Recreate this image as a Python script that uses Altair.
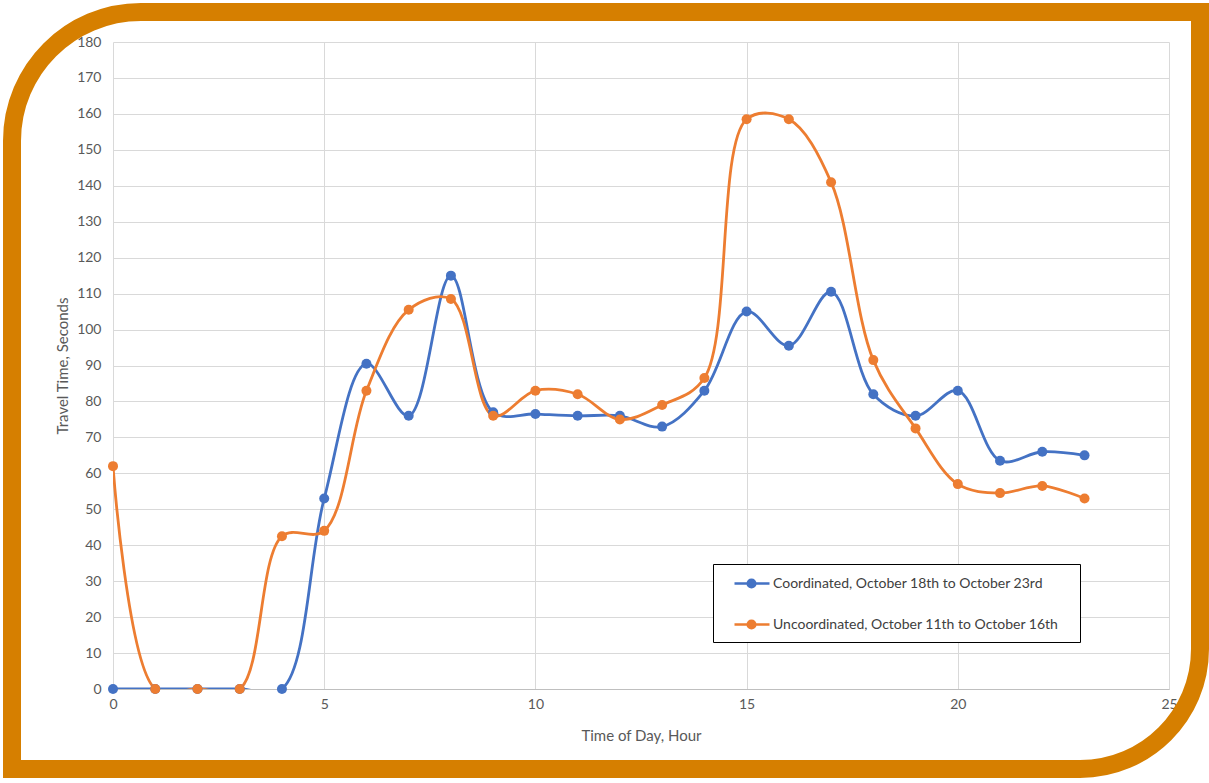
import altair as alt
import pandas as pd

hours = list(range(24))
coordinated = [0, 0, 0, 0, 0, 53, 90.5, 76, 115, 77, 76.5, 76, 76, 73, 83, 105,
               95.5, 110.5, 82, 76, 83, 63.5, 66, 65]
uncoordinated = [62, 0, 0, 0, 42.5, 44, 83, 105.5, 108.5, 76, 83, 82, 75, 79, 86.5,
                 158.5, 158.5, 141, 91.5, 72.5, 57, 54.5, 56.5, 53]
series_names = ["Coordinated, October 18th to October 23rd",
                "Uncoordinated, October 11th to October 16th"]
series_colors = ["#4472C4", "#ED7D31"]
x_ticks = [0, 5, 10, 15, 20, 25]
y_ticks = list(range(0, 181, 10))

rows = []
for name, vals in zip(series_names, [coordinated, uncoordinated]):
    for h, v in zip(hours, vals):
        rows.append({"hour": h, "time": v, "series": name})
df = pd.DataFrame(rows)

FONT = "Lato"
GREY = "#595959"
FRAME = "#D67F00"

legend_path = ("M0.2,0L3.7,0 "
               "M1.52,0A0.38,0.38 0 1,0 2.28,0A0.38,0.38 0 1,0 1.52,0 "
               "M1.77,0A0.13,0.13 0 1,0 2.03,0A0.13,0.13 0 1,0 1.77,0")

color = alt.Color(
    "series:N",
    scale=alt.Scale(domain=series_names, range=series_colors),
    legend=alt.Legend(
        title=".",
        titleOrient="right",
        titleOpacity=0,
        titleFontSize=8,
        titlePadding=10,
        orient="none",
        legendX=600,
        legendY=522,
        padding=8,
        rowPadding=20,
        symbolType=legend_path,
        symbolSize=400,
        symbolStrokeWidth=2.5,
        labelOffset=29,
        labelFont=FONT,
        labelFontSize=14,
        labelColor="#404040",
        labelLimit=400,
        strokeColor="#000000",
        fillColor="#FFFFFF",
    ),
    sort=series_names,
)

x_enc = alt.X(
    "hour:Q",
    scale=alt.Scale(domain=[0, 25], nice=False),
    axis=alt.Axis(
        values=x_ticks, title="Time of Day, Hour", grid=True, gridColor="#D9D9D9",
        ticks=False, domainColor="#BFBFBF", labelPadding=8, labelFont=FONT,
        labelFontSize=14, labelColor=GREY, labelFlush=False, titleFont=FONT,
        titleFontSize=15, titleFontWeight="normal", titleColor=GREY,
        titleBaseline="middle", titleY=46,
    ),
)
y_enc = alt.Y(
    "time:Q",
    scale=alt.Scale(domain=[0, 180], nice=False),
    axis=alt.Axis(
        values=y_ticks, title="Travel Time, Seconds", grid=True, gridColor="#D9D9D9",
        ticks=False, domain=False, labelPadding=12, labelFont=FONT,
        labelFontSize=14, labelColor=GREY, titleFont=FONT, titleFontSize=15,
        titleFontWeight="normal", titleColor=GREY, titleX=-51, titleY=323.5,
        titleBaseline="middle", titleAlign="center",
    ),
)

base = alt.Chart(df)
lines = base.mark_line(interpolate="catmull-rom", strokeWidth=2.8, clip=True).encode(
    x=x_enc, y=y_enc, color=color, order=alt.Order("hour:Q")
)
points = base.mark_point(filled=True, size=100, opacity=1).encode(
    x=x_enc, y=y_enc, color=color
)

frame = alt.Chart(pd.DataFrame({"f": [0]})).mark_rect(
    fillOpacity=0, stroke=FRAME, strokeWidth=18,
    cornerRadiusTopLeft=129, cornerRadiusBottomRight=120,
).encode(
    x=alt.value(-101), x2=alt.value(1087), y=alt.value(-30), y2=alt.value(727)
)

chart = alt.layer(lines, points, frame).properties(
    width=1056,
    height=647,
    padding={"left": 113, "top": 42, "right": 40, "bottom": 94},
    autosize=alt.AutoSizeParams(type="none"),
    background="#FFFFFF",
).configure_view(stroke=None)

chart.save("out.html", embed_options={"renderer": "svg", "actions": False})
